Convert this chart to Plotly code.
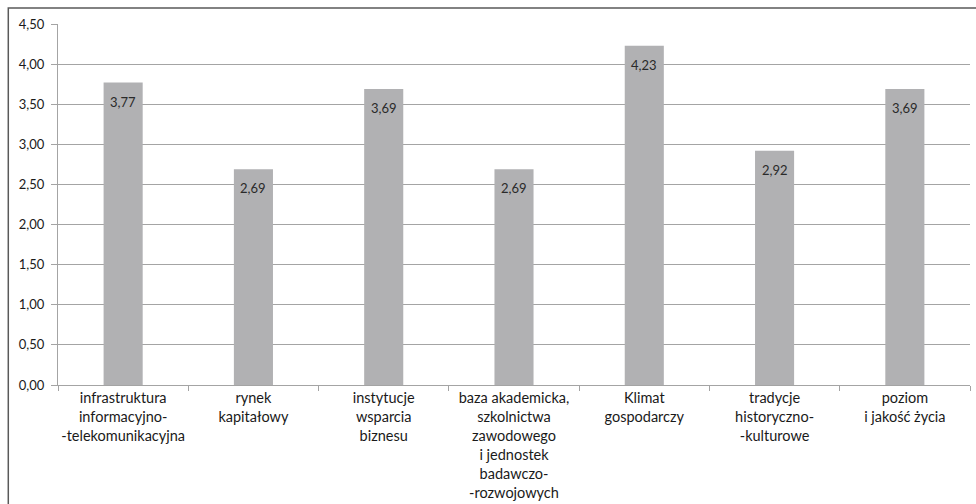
import plotly.graph_objects as go

categories = [
    "infrastruktura<br>informacyjno-<br>-telekomunikacyjna",
    "rynek<br>kapitałowy",
    "instytucje<br>wsparcia<br>biznesu",
    "baza akademicka,<br>szkolnictwa<br>zawodowego<br>i jednostek<br>badawczo-<br>-rozwojowych",
    "Klimat<br>gospodarczy",
    "tradycje<br>historyczno-<br>-kulturowe",
    "poziom<br>i jakość życia",
]
values = [3.77, 2.69, 3.69, 2.69, 4.23, 2.92, 3.69]
value_labels = ["3,77", "2,69", "3,69", "2,69", "4,23", "2,92", "3,69"]
y_ticks = [0, 0.5, 1.0, 1.5, 2.0, 2.5, 3.0, 3.5, 4.0, 4.5]
y_ticklabels = ["0,00", "0,50", "1,00", "1,50", "2,00", "2,50", "3,00", "3,50", "4,00", "4,50"]

FONT = "Lato, 'Open Sans', sans-serif"

fig = go.Figure()
fig.add_trace(go.Bar(
    x=categories, y=values,
    marker=dict(color="#B1B1B3", line=dict(width=0)),
    width=0.3,
    hoverinfo="skip",
))

for c, v, t in zip(categories, values, value_labels):
    fig.add_annotation(x=c, y=v, text=t, showarrow=False, yanchor="middle",
                       yshift=-19, font=dict(family=FONT, size=13, color="#2a2a2a"))

fig.update_layout(
    width=976, height=504,
    margin=dict(l=58, r=6, t=24, b=119, autoexpand=False),
    paper_bgcolor="white", plot_bgcolor="white",
    showlegend=False,
    font=dict(family=FONT, color="#1a1a1a"),
    bargap=0.7,
)
fig.update_yaxes(
    range=[0, 4.5], tickvals=y_ticks, ticktext=y_ticklabels,
    showgrid=True, gridcolor="#A4A4A4", gridwidth=1,
    showline=True, linecolor="#A4A4A4", linewidth=1,
    ticks="outside", ticklen=6, tickcolor="#A4A4A4",
    ticklabelstandoff=4,
    tickfont=dict(size=13, color="#1a1a1a"),
    zeroline=False, fixedrange=True, automargin=False,
)
fig.update_xaxes(
    showline=True, linecolor="#A4A4A4", linewidth=1,
    ticks="outside", ticklen=5, tickcolor="#A4A4A4", tickson="boundaries",
    tickfont=dict(size=14.5, color="#1a1a1a"), tickangle=0,
    showgrid=False, automargin=False,
)
fig.add_shape(type="rect", xref="paper", yref="paper",
              x0=-0.0545, x1=1.05, y0=-0.5, y1=1.044,
              line=dict(color="#595959", width=1.5), fillcolor="rgba(0,0,0,0)", layer="below")

fig.write_html("out.html")
